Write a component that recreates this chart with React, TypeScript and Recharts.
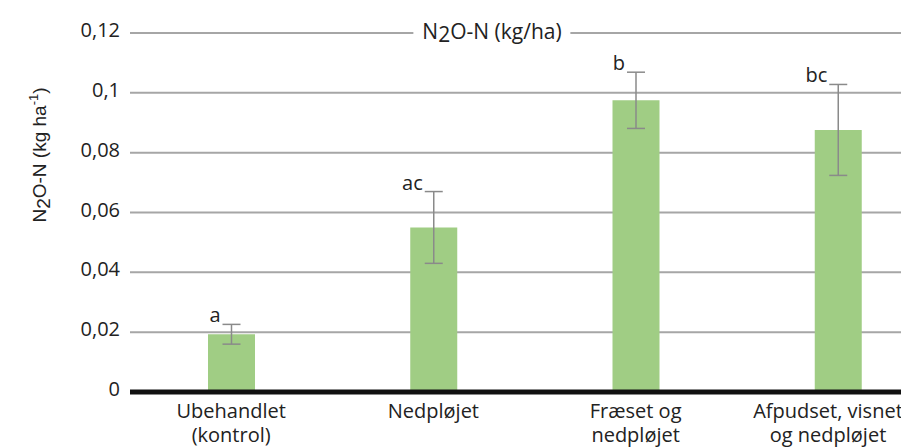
import { BarChart, Bar, XAxis, YAxis, CartesianGrid, ErrorBar, LabelList } from 'recharts';

const categories = ['Ubehandlet\n(kontrol)', 'Nedpløjet', 'Fræset og\nnedpløjet', 'Afpudset, visnet\nog nedpløjet'];
const n2oValues = [0.0193, 0.0550, 0.0975, 0.0876];
const n2oErrors = [0.0033, 0.0120, 0.0094, 0.0152];
const groupLetters = ['a', 'ac', 'b', 'bc'];
const yTicks = [0, 0.02, 0.04, 0.06, 0.08, 0.1, 0.12];

const data = categories.map((name, i) => ({
  name,
  value: n2oValues[i],
  err: n2oErrors[i],
  letter: groupLetters[i],
}));

const FONT = '"Open Sans", sans-serif';
const TEXT = '#222';

const fmt = (v: number) => String(v).replace('.', ',');

const XTick = ({ x, y, payload }: any) => {
  const lines = String(payload.value).split('\n');
  // keep the last label inside the frame, like the original
  const cx = Math.min(x, 820);
  return (
    <text x={cx} y={y} textAnchor="middle" fill={TEXT} fontFamily={FONT} fontSize={20}>
      {lines.map((l, i) => (
        <tspan key={i} x={cx} dy={i === 0 ? 18 : 24}>{l}</tspan>
      ))}
    </text>
  );
};

const YTick = ({ x, y, payload }: any) => (
  <text x={x - 2} y={y} dy={4} textAnchor="end" fill={TEXT} fontFamily={FONT} fontSize={20}>
    {fmt(payload.value)}
  </text>
);

const YLabel = () => (
  <text
    x={38}
    y={147}
    transform="rotate(-90, 38, 147)"
    textAnchor="middle"
    fill={TEXT}
    fontFamily='"Liberation Sans", Arial, sans-serif'
    fontSize={19}
  >
    N<tspan dy={4}>2</tspan>
    <tspan dy={-4}>O-N (kg ha</tspan>
    <tspan dy={-8} fontSize={13}>-1</tspan>
    <tspan dy={8}>)</tspan>
  </text>
);

// letter above the error bar, to the left of its cap
const renderLetter = (props: any) => {
  const { x, y, width, height, value, index } = props;
  const top = y - (n2oErrors[index] * height) / n2oValues[index];
  return (
    <text x={x + width / 2 - 11} y={top - 2} textAnchor="end" fill={TEXT} fontFamily={FONT} fontSize={20}>
      {value}
    </text>
  );
};

export default function App() {
  return (
    <div style={{ position: 'relative', width: 901, height: 440, overflow: 'hidden' }}>
      <BarChart width={931} height={440} data={data} margin={{ top: 25, right: 0, left: 0, bottom: 0 }}>
        <CartesianGrid vertical={false} stroke="#a6a6a6" strokeWidth={2} />
        <XAxis
          dataKey="name"
          height={56}
          interval={0}
          tickLine={false}
          axisLine={{ stroke: '#111', strokeWidth: 5 }}
          tick={<XTick />}
        />
        <YAxis
          width={122}
          domain={[0, 0.12]}
          ticks={yTicks}
          interval={0}
          axisLine={false}
          tickLine={false}
          tick={<YTick />}
          label={<YLabel />}
        />
        <Bar dataKey="value" fill="#a0cd84" barSize={47} isAnimationActive={false}>
          <ErrorBar dataKey="err" width={9} stroke="#8a8a8a" strokeWidth={1.5} isAnimationActive={false} />
          <LabelList dataKey="letter" content={renderLetter} />
        </Bar>
      </BarChart>
      <div
        style={{
          position: 'absolute',
          left: 484,
          top: 25,
          transform: 'translate(-50%, -55%)',
          background: '#fff',
          padding: '0 9px',
          fontFamily: FONT,
          fontSize: 21,
          lineHeight: 1,
          color: TEXT,
          whiteSpace: 'nowrap',
        }}
      >
        N<span style={{ position: 'relative', top: 3 }}>2</span>O-N (kg/ha)
      </div>
    </div>
  );
}
